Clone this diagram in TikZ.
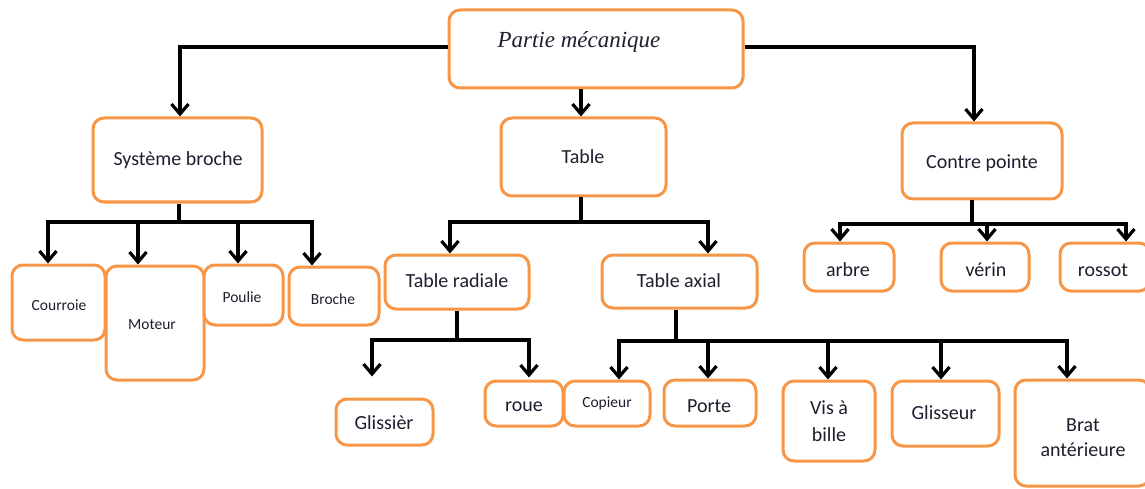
\documentclass[tikz,border=0pt]{standalone}
\usepackage{fontspec}
\setmainfont{Carlito}
\newfontfamily\serifit{Liberation Serif}
\usetikzlibrary{arrows.meta}
\definecolor{boxor}{HTML}{F79646}
\definecolor{txt}{HTML}{1E1E2E}
\tikzset{
  box/.style={draw=boxor, line width=3pt, rounded corners=11pt, rectangle, inner sep=0pt, fill=white},
  conn/.style={line width=3.2pt, black},
  arr/.style={conn, -{Straight Barb[length=10pt,width=17pt]}},
  big/.style={font=\fontsize{20}{27}\selectfont, text=txt, inner sep=0pt, align=center},
  small/.style={font=\fontsize{15.5}{18}\selectfont, text=txt, inner sep=0pt},
}
\begin{document}
\begin{tikzpicture}[x=1pt,y=-1pt]
\useasboundingbox (0,0) rectangle (1145,489);
% boxes
\node[box, minimum width=294, minimum height=78] (partie) at (596,49) {};
\node[box, minimum width=169, minimum height=84] (sys) at (177.5,160) {};
\node[box, minimum width=165, minimum height=78] (table) at (583.5,157) {};
\node[box, minimum width=160, minimum height=76] (contre) at (982,161) {};
\node[box, minimum width=90, minimum height=48] (arbre) at (849,267) {};
\node[box, minimum width=88, minimum height=48] (verin) at (985,267) {};
\node[box, minimum width=90, minimum height=48] (rossot) at (1105,267) {};
\node[box, minimum width=93, minimum height=75] (courroie) at (58.5,302.5) {};
\node[box, minimum width=98, minimum height=114] (moteur) at (155,323) {};
\node[box, minimum width=79, minimum height=60] (poulie) at (243.5,295) {};
\node[box, minimum width=90, minimum height=58] (broche) at (334,296) {};
\node[box, minimum width=144, minimum height=54] (radiale) at (457,282) {};
\node[box, minimum width=155, minimum height=53] (axial) at (679.5,281.5) {};
\node[box, minimum width=97, minimum height=46] (gliss) at (384.5,422) {};
\node[box, minimum width=78, minimum height=45] (roue) at (524,403.5) {};
\node[box, minimum width=86, minimum height=45] (copieur) at (607,403.5) {};
\node[box, minimum width=92, minimum height=46] (porte) at (710,403) {};
\node[box, minimum width=92, minimum height=80] (vis) at (829,421) {};
\node[box, minimum width=107, minimum height=65] (glisseur) at (945.5,413.5) {};
\node[box, minimum width=135, minimum height=106] (brat) at (1082.5,433) {};
% texts
\node[inner sep=0pt, text=txt, font=\serifit\itshape\fontsize{23}{27}\selectfont] (tpartie) at (579,42) {Partie mécanique};
\node[big] (tsys) at (178,160) {Système broche};
\node[big] (ttable) at (583,157) {Table};
\node[big] (tcontre) at (982,163) {Contre pointe};
\node[big] (tarbre) at (848,270) {arbre};
\node[big] (tverin) at (986,270) {vérin};
\node[big] (trossot) at (1103,270) {rossot};
\node[small] (tcourroie) at (59,305) {Courroie};
\node[small] (tmoteur) at (152,325) {Moteur};
\node[small] (tpoulie) at (242,297) {Poulie};
\node[small] (tbroche) at (333,299) {Broche};
\node[big] (tradiale) at (457,281) {Table radiale};
\node[big] (taxial) at (679,281) {Table axial};
\node[big] (tgliss) at (384,423) {Glissièr};
\node[big] (troue) at (524,407) {roue};
\node[small] (tcopieur) at (607,403) {Copieur};
\node[big] (tporte) at (709,406) {Porte};
\node[big] (tvis) at (829,421.5) {Vis à\\bille};
\node[big] (tglisseur) at (944,413) {Glisseur};
\node[big, font=\fontsize{20}{25}\selectfont] (tbrat) at (1083,437.5) {Brat\\antérieure};
% top level connectors
\draw[arr] ([yshift=2]partie.west) -| ([xshift=2.5]sys.north);
\draw[arr] ([yshift=2]partie.east) -| ([xshift=-8]contre.north);
\draw[arr] ([xshift=-2.5]table.north |- partie.south) -- ([xshift=-2.5]table.north);
% systeme broche
\coordinate (sysbus) at (179,222);
\draw[conn] (sys.south -| sysbus) -- (sysbus);
\draw[arr] (sysbus) -| ([xshift=-10.5]courroie.north);
\draw[arr] (sysbus) -| ([xshift=-17]moteur.north);
\draw[arr] (sysbus) -| ([xshift=-5.5]poulie.north);
\draw[arr] (sysbus) -| ([xshift=-22]broche.north);
% table
\coordinate (tabbus) at (581,222);
\draw[conn] (table.south -| tabbus) -- (tabbus);
\draw[arr] (tabbus) -| ([xshift=-7]radiale.north);
\draw[arr] (tabbus) -| ([xshift=28.5]axial.north);
% contre pointe
\coordinate (conbus) at (972,224);
\draw[conn] (contre.south -| conbus) -- (conbus);
\draw[arr] (conbus) -| ([xshift=-9]arbre.north);
\draw[arr] (conbus) -| ([xshift=2]verin.north);
\draw[arr] (conbus) -| ([xshift=21]rossot.north);
% table radiale
\coordinate (radbus) at (457,340);
\draw[conn] (radiale.south -| radbus) -- (radbus);
\draw[arr] (radbus) -| ([xshift=-12.5,yshift=21]gliss.north);
\draw[arr] (radbus) -| ([xshift=5,yshift=2]roue.north);
% table axial
\coordinate (axbus) at (676,341);
\draw[conn] (axial.south -| axbus) -- (axbus);
\draw[arr] (axbus) -| ([xshift=12]copieur.north);
\draw[arr] (axbus) -| ([xshift=-2]porte.north);
\draw[arr] (axbus) -| ([xshift=-1]vis.north);
\draw[arr] (axbus) -| ([xshift=-4.5]glisseur.north);
\draw[arr] (axbus) -| ([xshift=-15.5]brat.north);
\end{tikzpicture}
\end{document}
